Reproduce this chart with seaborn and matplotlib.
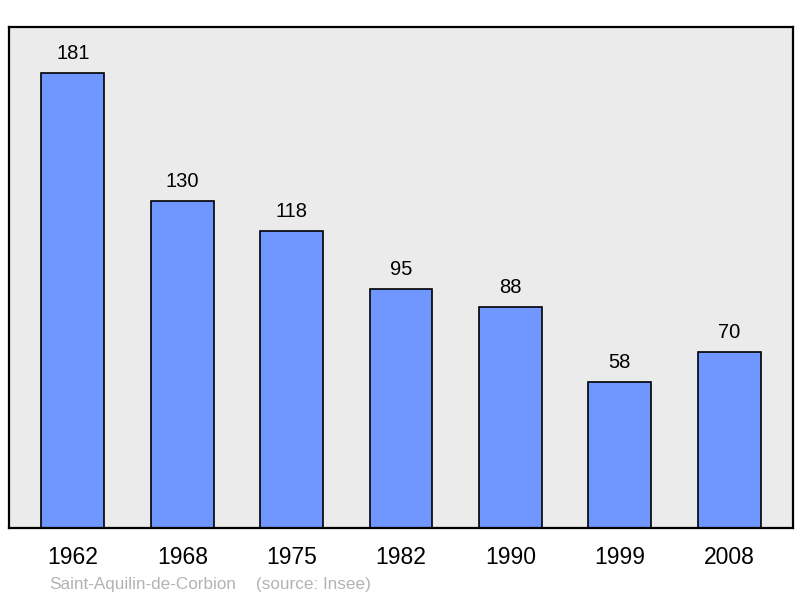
import numpy as np
import pandas as pd
import matplotlib
matplotlib.use("Agg")
import matplotlib.pyplot as plt
import seaborn as sns

# Population data
years = ["1962", "1968", "1975", "1982", "1990", "1999", "2008"]
population = [181, 130, 118, 95, 88, 58, 70]
commune = "Saint-Aquilin-de-Corbion"
source = "(source: Insee)"

df = pd.DataFrame({"Year": years, "Population": population})

sns.set_style("white")
plt.rcParams["font.family"] = ["Liberation Sans", "DejaVu Sans"]

fig = plt.figure(figsize=(8, 5.98), dpi=100)
ax = fig.add_axes([9 / 800, 1 - 528 / 598, 784 / 800, 501 / 598])
ax.set_facecolor("#ebebeb")

sns.barplot(x="Year", y="Population", data=df, color="#7097ff", saturation=1,
            width=0.576, edgecolor="black", linewidth=1.2, ax=ax)

ax.set_xlim(-0.585, 6.585)
ax.set_ylim(0, 199.3)

# value labels
for i, v in enumerate(population):
    ax.annotate(str(v), (i, v), xytext=(0, 10), textcoords="offset points",
                ha="center", va="baseline", fontsize=14.5, color="black")

ax.set_xlabel("")
ax.set_ylabel("")
ax.set_yticks([])
ax.tick_params(axis="x", length=0, labelsize=16.5, pad=13, labelcolor="black")

for s in ax.spines.values():
    s.set_visible(True)
    s.set_color("black")
    s.set_linewidth(1.6)

fig.text(49 / 800, 1 - 584 / 598, commune, fontsize=12.3, color="#b3b3b3",
         ha="left", va="center")
fig.text(256 / 800, 1 - 584 / 598, source, fontsize=12.3, color="#b3b3b3",
         ha="left", va="center")

fig.savefig("out.png", dpi=100)
